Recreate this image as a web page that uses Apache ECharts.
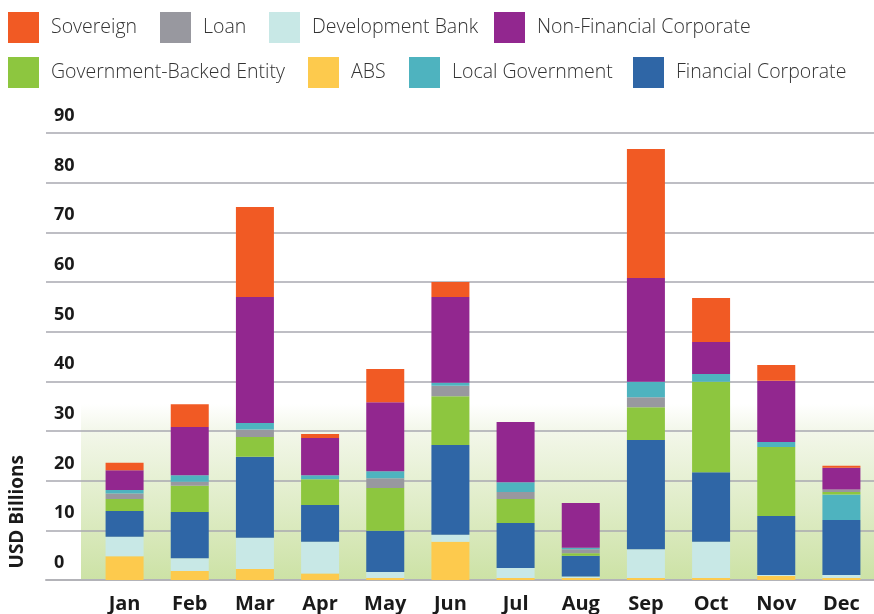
<!DOCTYPE html>
<html>
<head>
<meta charset="utf-8">
<script src="https://cdn.jsdelivr.net/npm/echarts@6/dist/echarts.min.js"></script>
<style>
  html, body { margin: 0; padding: 0; background: #fff; }
  #chart { width: 874px; height: 614px; }
</style>
</head>
<body>
<div id="chart"></div>
<script>
const months = ['Jan', 'Feb', 'Mar', 'Apr', 'May', 'Jun', 'Jul', 'Aug', 'Sep', 'Oct', 'Nov', 'Dec'];
const yTicks = [0, 10, 20, 30, 40, 50, 60, 70, 80, 90];

// USD billions
const abs = [4.8, 1.8, 2.2, 1.3, 0.4, 7.7, 0.4, 0.4, 0.4, 0.4, 0.8, 0.4];
const developmentBank = [3.9, 2.6, 6.3, 6.4, 1.2, 1.4, 2.0, 0.3, 5.8, 7.3, 0.2, 0.6];
const financialCorporate = [5.2, 9.3, 16.3, 7.4, 8.3, 18.1, 9.1, 4.2, 22.0, 14.0, 11.9, 11.1];
const governmentBacked = [2.4, 5.3, 4.0, 5.2, 8.6, 9.8, 4.8, 0.5, 6.6, 18.2, 13.9, 0.5];
const loan = [1.1, 0.8, 1.5, 0, 2.0, 2.1, 1.4, 0.8, 2.0, 0, 0, 0.5];
const localGovernment = [0.7, 1.3, 1.3, 0.8, 1.4, 0.6, 2.0, 0.3, 3.1, 1.6, 1.0, 5.1];
const nonFinancialCorporate = [4.0, 9.7, 25.4, 7.5, 13.9, 17.3, 12.1, 9.0, 20.9, 6.4, 12.3, 4.4];
const sovereign = [1.5, 4.6, 18.1, 0.8, 6.7, 3.0, 0, 0, 26.0, 8.9, 3.2, 0.4];
// months where the local government block sits right above financial corporate
const localGovLow = ['Dec'];

const colors = {
  'Sovereign': '#F15A24',
  'Loan': '#98989f',
  'Development Bank': '#C8E8E6',
  'Non-Financial Corporate': '#92278F',
  'Government-Backed Entity': '#8DC63F',
  'ABS': '#FDCA4D',
  'Local Government': '#4EB3BF',
  'Financial Corporate': '#2F66A6',
};

const legendItems = [
  { name: 'Sovereign', left: 8, top: 12 },
  { name: 'Loan', left: 160, top: 12 },
  { name: 'Development Bank', left: 269, top: 12 },
  { name: 'Non-Financial Corporate', left: 494, top: 12 },
  { name: 'Government-Backed Entity', left: 8, top: 57 },
  { name: 'ABS', left: 308, top: 57 },
  { name: 'Local Government', left: 409, top: 57 },
  { name: 'Financial Corporate', left: 633, top: 57 },
];

const lowLocal = localGovernment.map((v, i) => (localGovLow.includes(months[i]) ? v : 0));
const highLocal = localGovernment.map((v, i) => (localGovLow.includes(months[i]) ? 0 : v));

const stackOrder = [
  ['ABS', abs],
  ['Development Bank', developmentBank],
  ['Financial Corporate', financialCorporate],
  ['Local Government', lowLocal],
  ['Government-Backed Entity', governmentBacked],
  ['Loan', loan],
  ['Local Government', highLocal],
  ['Non-Financial Corporate', nonFinancialCorporate],
  ['Sovereign', sovereign],
];

const seriesData = stackOrder.map(([name, data]) => ({
  type: 'bar',
  name: name,
  stack: 'total',
  xAxisIndex: 1,
  yAxisIndex: 1,
  barWidth: 38,
  itemStyle: { color: colors[name] },
  data: data,
}));

const myChart = echarts.init(document.getElementById('chart'));

myChart.setOption({
  animation: false,
  color: Object.values(colors),
  legend: legendItems.map((item) => ({
    data: [item.name],
    left: item.left,
    top: item.top,
    padding: 0,
    icon: 'rect',
    itemWidth: 31,
    itemHeight: 31,
    selectedMode: false,
    textStyle: {
      fontFamily: 'Open Sans',
      fontWeight: 300,
      fontSize: 19.5,
      color: '#333',
      padding: [4, 0, 0, 7],
    },
  })),
  graphic: [
    {
      type: 'rect',
      z: -10,
      silent: true,
      shape: { x: 81, y: 404, width: 793, height: 177 },
      style: {
        fill: new echarts.graphic.LinearGradient(0, 0, 0, 1, [
          { offset: 0, color: 'rgba(255,255,255,1)' },
          { offset: 0.15, color: '#f3f7ea' },
          { offset: 1, color: '#cce2a5' },
        ]),
      },
    },
    {
      type: 'text',
      left: 8,
      top: 455,
      rotation: Math.PI / 2,
      style: {
        text: 'USD Billions',
        fontFamily: 'Open Sans',
        fontWeight: 'bold',
        fontSize: 19,
        fill: '#1a1a1a',
      },
    },
  ],
  grid: [
    { left: 46, right: 0, top: 133, bottom: 34 },
    { left: 92, right: 0, top: 133, bottom: 34 },
  ],
  xAxis: [
    {
      type: 'category',
      gridIndex: 0,
      data: months,
      axisTick: { show: false },
      axisLabel: { show: false },
      axisLine: { lineStyle: { color: '#b3b3b8', width: 2 } },
    },
    {
      type: 'category',
      gridIndex: 1,
      data: months,
      axisTick: { show: false },
      axisLine: { show: false },
      axisLabel: {
        margin: 14,
        fontFamily: 'Open Sans',
        fontWeight: 'bold',
        fontSize: 20,
        color: '#1a1a1a',
      },
    },
  ],
  yAxis: [
    {
      type: 'value',
      gridIndex: 0,
      min: yTicks[0],
      max: yTicks[yTicks.length - 1],
      interval: 10,
      axisLine: { show: false },
      axisTick: { show: false },
      axisLabel: {
        inside: true,
        align: 'left',
        verticalAlign: 'bottom',
        padding: [0, 0, 8, 0],
        fontFamily: 'Open Sans',
        fontWeight: 'bold',
        fontSize: 18,
        color: '#1a1a1a',
      },
      splitLine: { lineStyle: { color: '#a9a9b0', width: 1.5 } },
    },
    {
      type: 'value',
      gridIndex: 1,
      min: yTicks[0],
      max: yTicks[yTicks.length - 1],
      interval: 10,
      show: false,
      splitLine: { show: false },
    },
  ],
  series: seriesData,
});
</script>
</body>
</html>
